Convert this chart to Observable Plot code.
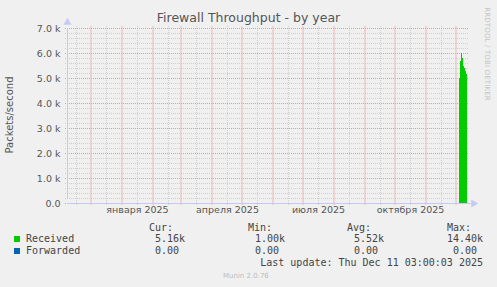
<!DOCTYPE html>
<html><head><meta charset="utf-8">
<script src="https://cdn.jsdelivr.net/npm/d3@7"></script>
<script src="https://cdn.jsdelivr.net/npm/@observablehq/plot@0.6"></script>
<style>
html,body{margin:0;padding:0;background:#f0f0f0;}
#wrap{position:relative;width:497px;height:287px;overflow:hidden;background:#f0f0f0;font-family:"DejaVu Sans",sans-serif;}
#wrap svg{position:absolute;left:0;top:0;}
.abs{position:absolute;white-space:pre;line-height:12px;}
.mono{font-family:"DejaVu Sans Mono",monospace;font-size:10px;color:#444;}
</style></head><body><div id="wrap"></div>
<script>
// ---- data ----
const title = "Firewall Throughput - by year";
const yTitle = "Packets/second";
const receivedDates = ["2025-12-04","2025-12-05","2025-12-06","2025-12-07","2025-12-08","2025-12-09","2025-12-10","2025-12-11"];
const receivedValues = [5000, 5700, 6000, 5800, 5500, 5400, 5300, 5160];
const forwardedValues = [0, 0, 0, 0, 0, 0, 0, 0];
const yTicks = [0, 1000, 2000, 3000, 4000, 5000, 6000, 7000];
const yTickLabels = ["0.0", "1.0 k", "2.0 k", "3.0 k", "4.0 k", "5.0 k", "6.0 k", "7.0 k"];
const monthLabelDates = ["2025-01-16", "2025-04-16", "2025-07-16", "2025-10-16"];
const monthLabels = ["января 2025", "апреля 2025", "июля 2025", "октября 2025"];
const seriesNames = ["Received", "Forwarded"];
const seriesColors = ["#00cc00", "#0066b3"];
const statHeaders = ["Cur:", "Min:", "Avg:", "Max:"];
const statCur = ["5.16k", "0.00"];
const statMin = ["1.00k", "0.00"];
const statAvg = ["5.52k", "0.00"];
const statMax = ["14.40k", "0.00"];
const lastUpdate = "Last update: Thu Dec 11 03:00:03 2025";
const watermark = "RRDTOOL / TOBI OETIKER";
const footer = "Munin 2.0.76";

// ---- build ----
const wrap = document.getElementById("wrap");
const xStart = new Date(Date.UTC(2024, 10, 7));
const xEnd = new Date(Date.UTC(2025, 11, 12));
const received = receivedDates.map((d, i) => ({date: new Date(d + "T00:00:00Z"), value: receivedValues[i]}));
received.push({date: d3.utcDay.offset(received[received.length - 1].date, 1), value: receivedValues[receivedValues.length - 1]});
const forwarded = receivedDates.map((d, i) => ({date: new Date(d + "T00:00:00Z"), value: forwardedValues[i]}));
const xMajor = d3.utcMonth.range(d3.utcMonth.ceil(xStart), xEnd);
const xMinor = xMajor.map(d => d3.utcDay.offset(d, 15)).filter(d => d < xEnd);
xMinor.unshift(d3.utcDay.offset(d3.utcMonth.floor(xStart), 15));
const yMinor = d3.range(0, 7001, 200).filter(v => v % 1000 !== 0);
const labelDates = monthLabelDates.map(d => new Date(d + "T00:00:00Z"));
const axisColor = "#c8c8f4";
const minorColor = "#cfcfcf";
const majorColor = "#e39a9a";

const plot = Plot.plot({
  width: 497, height: 220,
  marginTop: 28, marginLeft: 67, marginRight: 30, marginBottom: 17,
  style: {background: "transparent", fontFamily: "DejaVu Sans", fontSize: "9.5px", color: "#555", overflow: "visible"},
  x: {type: "utc", domain: [xStart, xEnd], axis: null, round: true},
  y: {domain: [0, 7000], axis: null, round: true},
  marks: [
    Plot.ruleY(yMinor, {stroke: minorColor, strokeDasharray: "1,1", insetLeft: -2, insetRight: -2}),
    Plot.ruleX(xMinor, {stroke: minorColor, strokeDasharray: "1,1", insetBottom: -2, insetTop: -2}),
    Plot.ruleY(yTicks, {stroke: majorColor, strokeDasharray: "1,1", insetLeft: -2, insetRight: -2}),
    // month-start major grid drawn as 1px-wide rects
    Plot.rect(xMajor, {x1: d => d, x2: d => d, y1: 0, y2: 7000, insetLeft: -0.5, insetRight: -0.5, insetBottom: -2, insetTop: -2, fill: "#e8b8b8"}),
    Plot.areaY(received, {x: "date", y: "value", curve: "step-after", fill: seriesColors[0]}),
    Plot.lineY(forwarded, {x: "date", y: "value", curve: "step-after", stroke: seriesColors[1], strokeWidth: 1}),
    Plot.ruleX([xStart], {y1: 0, y2: 7000, insetTop: -4, stroke: axisColor}),
    Plot.ruleY([0], {x1: xStart, x2: xEnd, insetRight: -4, stroke: axisColor}),
    Plot.dot([xStart], {x: d => d, y: 7000, dy: -6, symbol: "triangle", r: 3, fill: axisColor, stroke: null}),
    Plot.dot([xEnd], {x: d => d, y: 0, dx: 6, symbol: "triangle", rotate: 90, r: 3, fill: axisColor, stroke: null}),
    Plot.text(yTicks, {x: xStart, y: d => d, text: (d, i) => yTickLabels[i], textAnchor: "end", dx: -7, fill: "#555"}),
    Plot.text(labelDates, {x: d => d, frameAnchor: "bottom", dy: 9, text: (d, i) => monthLabels[i], fill: "#555"})
  ]
});
wrap.appendChild(plot);

function addText(txt, left, cy, cls, extra) {
  const el = document.createElement("div");
  el.className = "abs " + (cls || "");
  el.textContent = txt;
  el.style.left = left + "px";
  el.style.top = (cy - 6) + "px";
  if (extra) Object.assign(el.style, extra);
  wrap.appendChild(el);
  return el;
}

addText(title, 0, 18, "", {width: "497px", textAlign: "center", fontSize: "12.5px", color: "#555", lineHeight: "12px", left: "0px"});
addText(yTitle, 10, 115, "", {fontSize: "10px", color: "#555", transform: "translate(-50%,0) rotate(-90deg)", transformOrigin: "50% 50%"});
addText(watermark, 487, 54, "", {fontSize: "7px", letterSpacing: "0.15px", color: "#c4c4c4", transform: "translate(-50%,0) rotate(90deg)", transformOrigin: "50% 50%"});
const headerX = [149, 248, 347, 447];
statHeaders.forEach((h, i) => addText(h, headerX[i], 228, "mono"));
const rowY = [239, 251];
const numEdges = [179, 279, 378, 477];
const stats = [statCur, statMin, statAvg, statMax];
seriesNames.forEach((name, r) => {
  const sq = document.createElement("div");
  sq.style.cssText = `position:absolute;left:14px;top:${rowY[r] - 3}px;width:6px;height:6px;background:${seriesColors[r]};`;
  wrap.appendChild(sq);
  addText(name, 26, rowY[r], "mono");
  stats.forEach((col, c) => {
    const m = col[r].match(/^(.*?)([kMG]?)$/);
    addText(m[1], 0, rowY[r], "mono", {left: "auto", right: (497 - numEdges[c]) + "px"});
    if (m[2]) addText(m[2], numEdges[c], rowY[r], "mono");
  });
});
addText(lastUpdate, 0, 263, "mono", {left: "auto", right: (497 - 483) + "px"});
addText(footer, 223, 276, "", {fontSize: "7px", color: "#bdbdbd"});
</script></body></html>
